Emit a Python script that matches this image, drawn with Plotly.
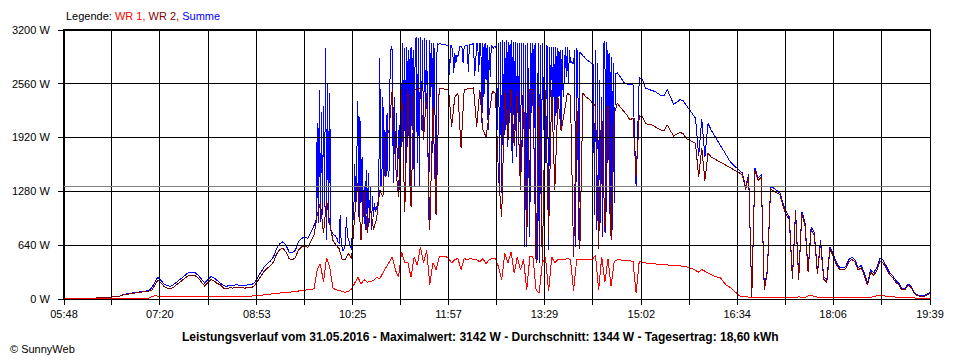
import plotly.graph_objects as go

# ---------------- data ----------------
X_LABELS = ["05:48", "07:20", "08:53", "10:25", "11:57", "13:29", "15:02", "16:34", "18:06", "19:39"]
Y_TICKS = [0, 640, 1280, 1920, 2560, 3200]
AVERAGE_W = 1344
SERIES_NAMES = ["WR 1", "WR 2", "Summe"]
TITLE = ("Leistungsverlauf vom 31.05.2016 - Maximalwert: 3142 W - "
         "Durchschnitt: 1344 W - Tagesertrag: 18,60 kWh")

# WR 1 and WR 2: one reading every 3 minutes from 05:48
WR_START = "05:48"
WR_STEP = 3

wr1 = [
    0, 0, 0, 0, 0, 0, 0, 0, 0, 0,
    0, 0, 0, 0, 0, 0, 0, 0, 0, 5,
    5, 5, 5, 5, 5, 5, 5, 10, 30, 40,
    35, 30, 30, 30, 30, 30, 30, 35, 35, 35,
    35, 35, 35, 35, 35, 35, 35, 35, 35, 35,
    30, 30, 30, 30, 30, 30, 30, 30, 30, 30,
    35, 40, 40, 45, 50, 55, 55, 60, 65, 70,
    75, 80, 80, 85, 90, 95, 100, 105, 105, 110,
    120, 350, 420, 200, 490, 380, 130, 110, 100, 90,
    80, 90, 120, 190, 260, 180, 230, 200, 210, 220,
    260, 240, 310, 370, 430, 500, 345, 260, 560, 430,
    430, 260, 500, 400, 620, 430, 580, 170, 430, 350,
    500, 500, 510, 480, 430, 470, 480, 350, 480, 470,
    480, 470, 470, 440, 480, 420, 470, 480, 480, 380,
    225, 545, 430, 560, 310, 500, 345, 470, 110, 500,
    500, 110, 70, 430, 500, 90, 500, 430, 470, 470,
    470, 480, 470, 100, 470, 475, 475, 475, 475, 470,
    520, 110, 500, 200, 480, 150, 450, 465, 465, 460,
    455, 455, 450, 70, 450, 440, 430, 420, 420, 420,
    410, 410, 405, 405, 400, 400, 395, 395, 390, 385,
    370, 360, 340, 320, 350, 330, 300, 290, 270, 260,
    250, 200, 160, 140, 110, 70, 40, 25, 25, 20,
    20, 20, 20, 20, 20, 15, 15, 15, 15, 15,
    15, 15, 15, 15, 20, 25, 20, 20, 35, 45,
    30, 20, 15, 15, 15, 10, 10, 10, 10, 10,
    10, 10, 10, 10, 15, 15, 15, 20, 20, 25,
    40, 40, 35, 35, 30, 25, 25, 20, 20, 15,
    15, 15, 10, 10, 10, 10, 10, 10,
]

wr2 = [
    0, 0, 0, 0, 0, 0, 0, 0, 5, 10,
    10, 10, 15, 20, 20, 25, 25, 30, 35, 50,
    55, 60, 65, 70, 75, 80, 85, 90, 100, 160,
    225, 190, 150, 130, 120, 140, 170, 205, 235, 265,
    285, 285, 275, 245, 195, 155, 195, 230, 215, 185,
    170, 130, 120, 135, 130, 140, 135, 135, 130, 140,
    135, 160, 220, 285, 330, 365, 395, 440, 535, 590,
    605, 560, 480, 465, 490, 585, 620, 635, 615, 690,
    760, 1000, 1150, 780, 1180, 900, 700, 640, 600, 470,
    470, 540, 480, 1000, 1380, 700, 1300, 780, 1100, 820,
    960, 1300, 1210, 1900, 2010, 2500, 1620, 1210, 2500, 1035,
    2500, 1100, 2480, 2500, 2500, 1900, 2450, 820, 2300, 1000,
    2500, 2510, 2490, 2490, 2050, 2400, 2450, 1800, 2490, 2500,
    2500, 2510, 2050, 2490, 2010, 1930, 2200, 2470, 2450, 1450,
    975, 2490, 1890, 2500, 1820, 2480, 1300, 2480, 665, 2490,
    2490, 430, 2400, 420, 2490, 740, 2490, 1300, 2400, 2000,
    2210, 2450, 2420, 500, 2400, 600, 2450, 2400, 2380, 2330,
    2300, 600, 2250, 800, 2300, 700, 2200, 2330, 2280, 2240,
    2190, 2130, 2150, 1450, 2180, 2170, 2090, 2070, 2070, 2050,
    2030, 2010, 2010, 2070, 2000, 1940, 1960, 1980, 1970, 1910,
    1890, 1870, 1850, 1450, 1800, 1410, 1735, 1690, 1670, 1650,
    1620, 1600, 1580, 1560, 1540, 1520, 1500, 1480, 1300, 1460,
    25, 1530, 1410, 1450, 110, 330, 1310, 1290, 1260, 1240,
    1110, 1000, 945, 240, 1030, 230, 1010, 885, 320, 830,
    755, 300, 670, 235, 200, 590, 515, 415, 355, 350,
    360, 440, 470, 440, 345, 370, 280, 165, 320, 280,
    340, 450, 430, 370, 295, 255, 200, 170, 110, 110,
    165, 135, 65, 40, 30, 30, 50, 65,
]

# Summe: 3-minute readings, with 1-minute readings through the cloudy midday
summe_morning = [  # from 05:48, every 3 min
    0, 0, 0, 0, 0, 0, 0, 0, 5, 10,
    10, 10, 15, 20, 20, 25, 25, 30, 35, 55,
    60, 65, 70, 75, 80, 85, 90, 100, 130, 200,
    260, 220, 180, 160, 150, 170, 200, 240, 270, 300,
    320, 320, 310, 280, 230, 190, 230, 265, 250, 220,
    200, 160, 150, 165, 160, 170, 165, 165, 160, 170,
    170, 200, 260, 330, 380, 420, 450, 500, 600, 660,
    680, 640, 560, 550, 580, 680, 720, 740, 720, 800,
]
summe_midday = [  # from 09:48, every minute
    880, 900, 950, 2090, 900, 2490, 920, 2230, 1000, 2300,
    1100, 2990, 700, 2560, 900, 2450, 820, 800, 780, 760,
    760, 740, 720, 680, 660, 1000, 660, 600, 570, 600,
    660, 980, 740, 720, 660, 620, 590, 940, 960, 1610,
    1060, 2010, 2356, 980, 2170, 1140, 1690, 980, 1336, 820,
    1535, 860, 1495, 900, 1336, 820, 1220, 980, 1140, 1040,
    1100, 1120, 1180, 2864, 1336, 1376, 2400, 1416, 2011, 1455,
    2209, 1455, 1535, 2804, 3010, 2963, 1376, 2408, 1693, 2209,
    1455, 2011, 1297, 3062, 1813, 3042, 1614, 2983, 1336, 3003,
    1813, 2963, 1336, 3003, 2011, 2963, 1336, 3042, 3122, 1614,
    3102, 1336, 3122, 2011, 3082, 1892, 3102, 2209, 3082, 2011,
    940, 3082, 2408, 3042, 1733, 3042, 2209, 1356, 3042, 3022,
    3040, 3035, 3035, 3030, 3030, 3025, 3025, 3020, 3020, 3015,
    2665, 3022, 3003, 2963, 2685, 2923, 2804, 2903, 2884, 2963,
    3003, 3003, 2983, 2804, 3003, 3013, 3013, 3022, 2700, 3022,
    3022, 3032, 3032, 3042, 2650, 2800, 3042, 3042, 2700, 3042,
    3042, 2090, 3042, 2408, 3042, 2606, 3022, 2011, 3003, 2646,
    3022, 3003, 2983, 3003, 3003, 2983, 2011, 3042, 1257, 3062,
    1257, 3082, 1614, 3062, 2011, 3082, 1813, 3062, 2209, 3082,
    1614, 3062, 2011, 3062, 1693, 3042, 2011, 3042, 1416, 3042,
    1813, 3042, 622, 3022, 622, 3042, 2011, 742, 3042, 2209,
    3042, 2011, 3042, 821, 464, 3042, 424, 3022, 821, 3042,
    2011, 3022, 1614, 3022, 3003, 583, 3003, 2408, 3003, 2209,
    3003, 2011, 3003, 2209, 2983, 2408, 2963, 2011, 2963, 2408,
    2606, 3003, 2646, 3003, 2566, 2963, 2804, 2823, 2804, 2804,
    2963, 622, 2983, 2923, 702, 2943, 2923, 2903, 2894, 2884,
    2864, 2852, 2844, 2836, 2824, 2812, 2804, 2792, 2784, 1000,
    2963, 821, 2804, 662, 2606, 900, 2408, 742, 3042, 3062,
    781, 3062, 1614, 2923, 900, 2884, 821, 2804, 1138, 2685,
    2690, 2690,
]
summe_evening = [  # from 14:42, every 3 min
    2640, 2580,
    2560, 2545, 2560, 1330, 2630, 2610, 2510, 2490, 2480, 2470,
    2440, 2420, 2420, 2490, 2400, 2320, 2340, 2370, 2360, 2310,
    2250, 2210, 2150, 1700, 2140, 1690, 2090, 2010, 1950, 1890,
    1830, 1770, 1700, 1640, 1600, 1560, 1530, 1500, 1330, 1480,
    30, 1560, 1440, 1480, 130, 350, 1335, 1320, 1290, 1260,
    1140, 1035, 975, 260, 1060, 250, 1040, 915, 345, 860,
    785, 320, 700, 260, 230, 620, 545, 440, 380, 370,
    385, 465, 500, 465, 370, 400, 310, 190, 345, 310,
    380, 485, 465, 400, 320, 280, 225, 190, 130, 130,
    180, 150, 75, 50, 40, 40, 60, 75,
]
SUMME_SEGMENTS = [("05:48", 3, summe_morning), ("09:48", 1, summe_midday), ("14:42", 3, summe_evening)]

COLORS = ["#FF0000", "#800000", "#0000FF"]


# ---------------- build ----------------
def to_min(s):
    h, m = s.split(":")
    return int(h) * 60 + int(m)


def sample_times(start, step, n):
    t0 = to_min(start)
    return [t0 + step * i for i in range(n)]


wr_times = sample_times(WR_START, WR_STEP, len(wr1))
summe_t, summe_v = [], []
for start, step, vals in SUMME_SEGMENTS:
    summe_t += sample_times(start, step, len(vals))
    summe_v += vals

label_pos = [to_min(s) for s in X_LABELS]
mid_pos = [(a + b) / 2 for a, b in zip(label_pos[:-1], label_pos[1:])]

fig = go.Figure()
fig.add_trace(go.Scatter(x=summe_t, y=summe_v, name=SERIES_NAMES[2], mode="lines",
                         line=dict(color=COLORS[2], width=1)))
fig.add_trace(go.Scatter(x=wr_times, y=wr2, name=SERIES_NAMES[1], mode="lines",
                         line=dict(color=COLORS[1], width=1)))
fig.add_trace(go.Scatter(x=wr_times, y=wr1, name=SERIES_NAMES[0], mode="lines",
                         line=dict(color=COLORS[0], width=1)))

FONT = "Liberation Sans"
fig.update_layout(
    width=960, height=360,
    margin=dict(l=60, r=30, t=30, b=61),
    paper_bgcolor="white", plot_bgcolor="white",
    showlegend=False,
    font=dict(family=FONT, size=11, color="black"),
)

fig.update_xaxes(
    range=[label_pos[0], label_pos[-1]],
    tickvals=label_pos, ticktext=X_LABELS,
    showgrid=False, zeroline=False,
    showline=True, linecolor="black", linewidth=1, mirror=True,
    ticks="outside", ticklen=5, tickcolor="black", tickwidth=1,
    minor=dict(tickvals=mid_pos, ticks="outside", ticklen=5,
               tickcolor="black", tickwidth=1, showgrid=False),
    tickfont=dict(family=FONT, size=11, color="black"),
)
fig.update_yaxes(
    range=[Y_TICKS[0], Y_TICKS[-1]],
    tickvals=Y_TICKS, ticktext=[f"{v} W" for v in Y_TICKS],
    showgrid=False, zeroline=False,
    showline=True, linecolor="black", linewidth=1, mirror=True,
    ticks="outside", ticklen=5, tickcolor="black", tickwidth=1,
    ticklabelstandoff=6,
    tickfont=dict(family=FONT, size=11, color="black"),
)

# grid lines drawn above the data, as in the reference
shapes = []
for xv in label_pos + mid_pos:
    shapes.append(dict(type="line", xref="x", yref="paper", x0=xv, x1=xv, y0=0, y1=1,
                       line=dict(color="black", width=1), layer="above"))
for yv in Y_TICKS:
    shapes.append(dict(type="line", xref="paper", yref="y", x0=0, x1=1, y0=yv, y1=yv,
                       line=dict(color="black", width=1), layer="above"))
shapes.append(dict(type="line", xref="paper", yref="y", x0=0, x1=1, y0=AVERAGE_W, y1=AVERAGE_W,
                   line=dict(color="#808080", width=1), layer="above"))
fig.update_layout(shapes=shapes)

legend_html = ("Legende: "
               f"<span style='color:{COLORS[0]}'>{SERIES_NAMES[0]},</span> "
               f"<span style='color:{COLORS[1]}'>{SERIES_NAMES[1]},</span> "
               f"<span style='color:{COLORS[2]}'>{SERIES_NAMES[2]}</span>")
fig.add_annotation(text=legend_html, xref="paper", yref="paper", x=0, y=1 + 14 / 269,
                   xanchor="left", yanchor="middle", showarrow=False,
                   font=dict(family=FONT, size=11, color="black"))
fig.add_annotation(text=f"<b>{TITLE}</b>", xref="paper", yref="paper",
                   x=(478 - 60) / 870, y=-(337 - 299) / 269,
                   xanchor="center", yanchor="middle", showarrow=False,
                   font=dict(family=FONT, size=12, color="black"))
fig.add_annotation(text="© SunnyWeb", xref="paper", yref="paper",
                   x=(4 - 60) / 870, y=-(349 - 299) / 269,
                   xanchor="left", yanchor="middle", showarrow=False,
                   font=dict(family=FONT, size=11, color="black"))

POST = ("document.body.style.margin='0';document.body.style.overflow='hidden';"
        "var st=document.createElement('style');"
        "st.textContent='.js-line,.shapelayer path{shape-rendering:crispEdges}';"
        "document.head.appendChild(st);")
fig.write_html("out.html", config={"displayModeBar": False}, post_script=POST)
